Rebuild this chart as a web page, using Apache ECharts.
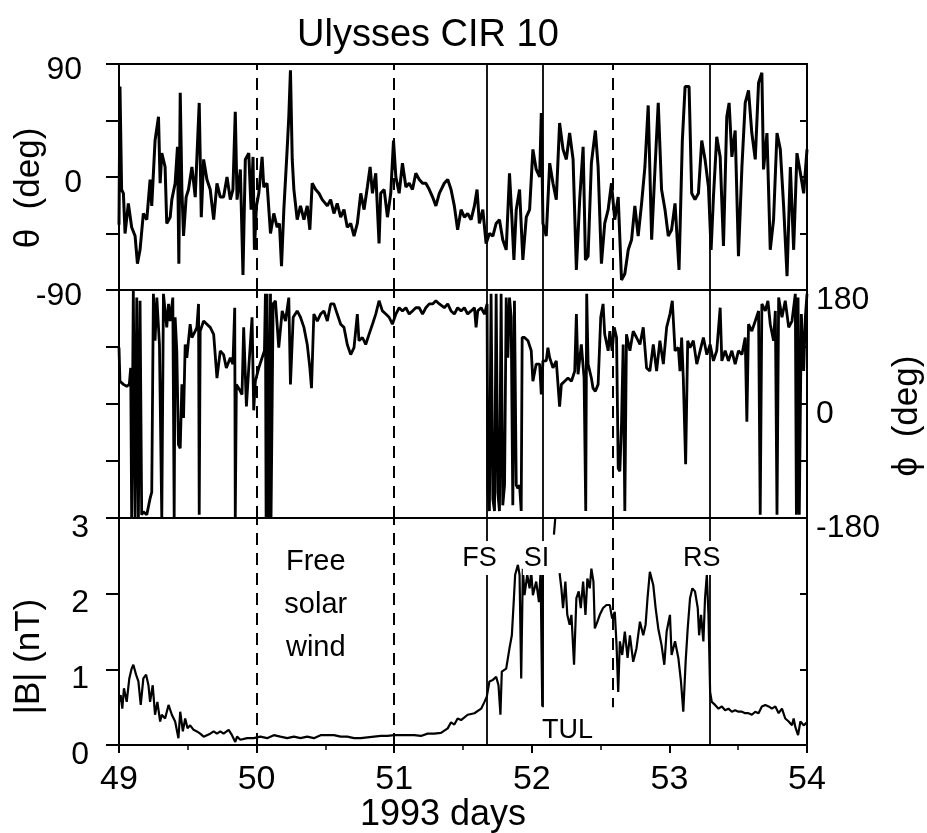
<!DOCTYPE html>
<html>
<head>
<meta charset="utf-8">
<title>Ulysses CIR 10</title>
<script src="https://cdn.jsdelivr.net/npm/echarts@6/dist/echarts.min.js"></script>
<style>
  html, body { margin: 0; padding: 0; background: #ffffff; }
  #main { width: 927px; height: 833px; }
</style>
</head>
<body>
<div id="main"></div>
<script>
// Ulysses magnetometer, CIR 10 (1993 days 49-54)
const FONT = '"Liberation Sans", Arial, Helvetica, sans-serif';

// x range (day of year 1993)
const dayRange = [49, 54];

// Field latitude angle theta (deg)
const theta = [
  [49.000,-38],[49.007,72],[49.019,-10],[49.032,-13],[49.044,-45],[49.068,-21],[49.092,-40],[49.117,-47],
  [49.134,-69],[49.153,-58],[49.177,-29],[49.202,-34],[49.226,-2],[49.238,-23],[49.262,29],[49.287,48],
  [49.299,-5],[49.311,19],[49.335,8],[49.347,-37],[49.372,-32],[49.384,-18],[49.408,-5],[49.425,24],
  [49.435,-69],[49.445,67],[49.457,-10],[49.469,-47],[49.488,-16],[49.505,-10],[49.530,8],[49.554,-16],
  [49.583,59],[49.598,-32],[49.615,14],[49.639,-2],[49.663,-10],[49.688,-34],[49.712,-5],[49.736,-16],
  [49.760,-16],[49.785,0],[49.809,-18],[49.828,-10],[49.845,52],[49.858,-18],[49.882,6],[49.901,-78],
  [49.918,14],[49.943,19],[49.960,-26],[49.974,16],[49.984,-58],[49.999,-23],[50.016,-13],[50.040,16],
  [50.052,-8],[50.076,-5],[50.101,-45],[50.125,-29],[50.149,-40],[50.166,-37],[50.181,-71],[50.198,-26],
  [50.222,22],[50.234,48],[50.246,85],[50.259,14],[50.271,-10],[50.295,-34],[50.319,-23],[50.344,-34],
  [50.368,-23],[50.387,-42],[50.404,-5],[50.429,-10],[50.453,-13],[50.477,-18],[50.514,-23],[50.538,-18],
  [50.562,-29],[50.586,-21],[50.611,-32],[50.635,-26],[50.659,-40],[50.684,-37],[50.708,-47],[50.732,-37],
  [50.757,-13],[50.781,-26],[50.805,-8],[50.825,8],[50.842,-13],[50.866,3],[50.890,-53],[50.902,-13],
  [50.927,-10],[50.951,-32],[50.975,-13],[50.995,29],[51.012,0],[51.036,-13],[51.060,11],[51.085,-8],
  [51.109,-5],[51.133,-10],[51.157,3],[51.182,-2],[51.206,-5],[51.230,-5],[51.255,-10],[51.279,-16],
  [51.303,-23],[51.328,-13],[51.364,-5],[51.389,-2],[51.413,-10],[51.437,-23],[51.461,-42],[51.486,-26],
  [51.510,-32],[51.534,-29],[51.559,-34],[51.583,-23],[51.602,-10],[51.619,-37],[51.644,-26],[51.668,-53],
  [51.692,-45],[51.717,-47],[51.741,-37],[51.765,-34],[51.789,-50],[51.814,-58],[51.838,3],[51.855,-32],
  [51.870,-66],[51.887,-26],[51.911,-10],[51.935,-66],[51.960,-32],[51.984,-26],[52.008,22],[52.032,6],
  [52.057,0],[52.069,51],[52.081,-37],[52.105,-47],[52.130,11],[52.154,-5],[52.178,-18],[52.202,43],
  [52.227,22],[52.251,14],[52.275,35],[52.300,14],[52.324,-74],[52.348,-18],[52.373,24],[52.390,-66],
  [52.409,-63],[52.433,11],[52.462,37],[52.482,8],[52.506,-69],[52.530,-37],[52.555,-26],[52.579,-5],
  [52.603,-34],[52.628,-16],[52.652,-82],[52.676,-77],[52.701,-58],[52.725,-50],[52.749,-23],[52.773,-47],
  [52.798,-21],[52.822,8],[52.846,57],[52.871,-50],[52.895,6],[52.919,59],[52.943,-10],[52.968,-26],
  [52.992,-47],[53.016,-42],[53.041,-21],[53.070,-74],[53.094,29],[53.114,72],[53.143,72],[53.162,-13],
  [53.186,-18],[53.211,-13],[53.235,29],[53.259,14],[53.284,-8],[53.303,-58],[53.320,-16],[53.344,32],
  [53.369,16],[53.393,-55],[53.417,48],[53.434,59],[53.454,16],[53.478,37],[53.502,-63],[53.527,8],
  [53.551,59],[53.575,69],[53.599,35],[53.624,14],[53.648,75],[53.672,83],[53.684,6],[53.709,35],
  [53.733,-58],[53.757,-34],[53.782,35],[53.806,22],[53.830,-23],[53.855,-79],[53.879,8],[53.903,-58],
  [53.927,19],[53.952,3],[53.976,-13],[54.000,22]
];

// Field azimuth angle phi (deg)
const phi = [
  [49.000,89],[49.007,36],[49.032,31],[49.056,28],[49.075,31],[49.085,57],[49.092,-180],[49.104,180],
  [49.117,-180],[49.129,168],[49.141,-180],[49.153,163],[49.165,-175],[49.177,-170],[49.202,-175],[49.226,-149],
  [49.238,-139],[49.250,174],[49.262,100],[49.275,168],[49.294,94],[49.311,-180],[49.323,174],[49.347,121],
  [49.360,158],[49.372,131],[49.391,168],[49.401,-180],[49.408,137],[49.420,84],[49.432,-64],[49.445,-70],
  [49.457,31],[49.469,-22],[49.481,94],[49.493,73],[49.505,100],[49.517,126],[49.530,105],[49.554,115],
  [49.566,121],[49.578,158],[49.583,-175],[49.590,115],[49.615,131],[49.639,126],[49.663,121],[49.688,110],
  [49.712,41],[49.736,84],[49.760,78],[49.780,57],[49.809,73],[49.828,63],[49.841,152],[49.845,-180],
  [49.853,31],[49.870,25],[49.894,15],[49.906,121],[49.926,-4],[49.943,57],[49.967,137],[49.979,-10],
  [49.991,36],[50.016,57],[50.040,73],[50.057,84],[50.064,174],[50.069,-180],[50.076,174],[50.088,-180],
  [50.101,174],[50.105,-180],[50.120,158],[50.137,163],[50.161,89],[50.186,147],[50.210,131],[50.234,168],
  [50.246,31],[50.266,137],[50.295,147],[50.319,137],[50.344,121],[50.368,94],[50.387,57],[50.399,25],
  [50.416,142],[50.441,131],[50.465,142],[50.489,147],[50.514,131],[50.538,158],[50.562,158],[50.586,142],
  [50.611,126],[50.635,121],[50.659,94],[50.684,78],[50.708,89],[50.732,142],[50.744,100],[50.769,105],
  [50.793,94],[50.817,110],[50.842,126],[50.866,142],[50.890,163],[50.914,147],[50.939,142],[50.963,137],
  [50.987,126],[51.012,142],[51.036,152],[51.060,147],[51.085,152],[51.109,142],[51.133,147],[51.157,152],
  [51.182,152],[51.206,142],[51.230,152],[51.255,158],[51.279,158],[51.303,163],[51.328,158],[51.364,152],
  [51.389,158],[51.413,147],[51.437,142],[51.461,152],[51.486,147],[51.510,152],[51.534,142],[51.559,147],
  [51.583,152],[51.595,121],[51.607,147],[51.632,152],[51.656,142],[51.675,158],[51.680,-133],[51.692,-169],
  [51.704,174],[51.717,-150],[51.729,-169],[51.741,174],[51.753,-140],[51.765,-169],[51.777,174],[51.789,-160],
  [51.802,-128],[51.814,168],[51.826,73],[51.838,168],[51.850,137],[51.862,-160],[51.874,163],[51.887,-128],
  [51.899,-133],[51.911,-128],[51.923,-169],[51.930,105],[51.947,105],[51.972,100],[51.996,84],[52.008,36],
  [52.032,63],[52.057,63],[52.069,15],[52.081,68],[52.105,68],[52.117,89],[52.130,73],[52.154,57],
  [52.178,68],[52.202,-4],[52.215,31],[52.239,36],[52.263,41],[52.288,36],[52.312,52],[52.324,142],
  [52.336,47],[52.360,94],[52.380,41],[52.392,-169],[52.399,174],[52.409,63],[52.433,41],[52.445,25],
  [52.462,20],[52.482,31],[52.501,137],[52.518,158],[52.530,110],[52.555,84],[52.567,115],[52.584,84],
  [52.599,121],[52.616,105],[52.628,-102],[52.640,-106],[52.652,-31],[52.664,94],[52.676,-169],[52.688,110],
  [52.713,84],[52.737,115],[52.761,105],[52.786,94],[52.810,121],[52.834,57],[52.858,52],[52.883,94],
  [52.907,52],[52.931,100],[52.956,63],[52.980,121],[53.004,142],[53.021,163],[53.041,84],[53.065,89],
  [53.077,52],[53.089,105],[53.101,41],[53.118,-95],[53.133,100],[53.150,89],[53.174,100],[53.199,63],
  [53.223,84],[53.247,105],[53.272,78],[53.296,94],[53.320,68],[53.344,84],[53.369,152],[53.381,68],
  [53.405,84],[53.429,68],[53.454,84],[53.478,63],[53.502,84],[53.527,78],[53.551,105],[53.563,-28],
  [53.575,126],[53.599,115],[53.624,131],[53.648,147],[53.660,-175],[53.672,158],[53.697,147],[53.716,163],
  [53.733,126],[53.757,100],[53.770,147],[53.782,-175],[53.794,168],[53.818,137],[53.842,163],[53.867,121],
  [53.891,131],[53.915,174],[53.923,-175],[53.935,168],[53.944,-175],[53.959,142],[53.976,52],[53.988,137],
  [54.000,174]
];

// Field magnitude |B| (nT); '-' marks a data gap
const bmag = [
  [49.000,0.57],[49.012,0.66],[49.024,0.48],[49.036,0.75],[49.056,0.57],[49.075,0.88],[49.092,1.01],[49.104,1.06],
  [49.124,0.93],[49.141,0.84],[49.158,0.53],[49.177,0.88],[49.197,0.93],[49.214,0.79],[49.226,0.57],[49.245,0.79],
  [49.262,0.40],[49.279,0.57],[49.299,0.31],[49.311,0.40],[49.335,0.35],[49.360,0.53],[49.384,0.40],[49.408,0.31],
  [49.432,0.09],[49.445,0.44],[49.464,0.18],[49.481,0.35],[49.498,0.22],[49.517,0.26],[49.542,0.20],[49.566,0.18],
  [49.590,0.15],[49.615,0.11],[49.639,0.13],[49.663,0.15],[49.688,0.18],[49.712,0.15],[49.736,0.18],[49.760,0.15],
  [49.797,0.20],[49.821,0.13],[49.845,0.04],[49.858,0.11],[49.882,0.07],[49.931,0.09],[49.979,0.09],[50.028,0.11],
  [50.076,0.09],[50.125,0.13],[50.173,0.11],[50.222,0.09],[50.271,0.11],[50.319,0.09],[50.368,0.11],[50.416,0.09],
  [50.465,0.13],[50.514,0.13],[50.562,0.13],[50.611,0.11],[50.659,0.11],[50.708,0.09],[50.757,0.09],[50.805,0.10],
  [50.854,0.11],[50.902,0.12],[50.951,0.12],[51.000,0.13],[51.048,0.13],[51.097,0.13],[51.145,0.13],[51.194,0.12],
  [51.243,0.15],[51.291,0.15],[51.340,0.16],[51.389,0.22],[51.413,0.30],[51.437,0.27],[51.461,0.35],[51.486,0.33],
  [51.534,0.40],[51.583,0.42],[51.632,0.48],[51.656,0.57],[51.673,0.64],[51.692,0.84],[51.717,0.86],[51.741,0.90],
  [51.758,0.79],[51.772,0.40],[51.782,0.97],[51.814,1.01],[51.838,1.28],[51.855,1.45],[51.870,1.94],[51.879,2.25],
  [51.899,2.38],[51.911,2.25],[51.923,0.88],[51.935,2.33],[51.947,1.98],[51.967,2.25],[51.984,2.07],[51.996,2.29],
  [52.008,1.98],[52.032,2.16],[52.052,1.89],[52.064,2.29],[52.076,0.51],[52.081,2.27],[52.090,'-'],[52.161,2.78],
  [52.175,3.10],[52.185,'-'],[52.202,2.27],[52.215,2.07],[52.227,1.81],[52.244,2.16],[52.258,1.72],[52.275,1.59],
  [52.288,1.72],[52.307,1.06],[52.324,1.94],[52.341,2.03],[52.356,1.81],[52.373,2.16],[52.390,1.72],[52.404,2.20],
  [52.421,2.07],[52.433,2.33],[52.448,2.16],[52.458,1.54],[52.477,1.63],[52.494,1.72],[52.518,1.81],[52.543,1.85],
  [52.567,1.85],[52.584,1.67],[52.603,1.76],[52.616,1.32],[52.628,0.70],[52.640,1.37],[52.657,1.19],[52.676,1.50],
  [52.696,1.15],[52.713,1.45],[52.737,1.10],[52.761,1.28],[52.786,1.63],[52.810,1.45],[52.827,1.59],[52.841,1.94],
  [52.858,2.29],[52.871,2.29],[52.883,2.11],[52.900,1.81],[52.919,1.54],[52.943,1.32],[52.963,1.06],[52.980,1.50],
  [53.004,1.72],[53.016,1.19],[53.041,1.37],[53.065,1.15],[53.084,0.84],[53.101,0.44],[53.118,1.10],[53.133,1.54],
  [53.150,1.94],[53.167,2.07],[53.186,2.03],[53.206,1.81],[53.216,1.45],[53.230,1.72],[53.247,1.37],[53.259,1.94],
  [53.272,2.25],[53.284,1.72],[53.296,0.70],[53.308,0.57],[53.332,0.53],[53.357,0.48],[53.381,0.51],[53.405,0.46],
  [53.429,0.48],[53.454,0.44],[53.478,0.46],[53.502,0.44],[53.527,0.44],[53.551,0.42],[53.575,0.42],[53.599,0.40],
  [53.624,0.44],[53.648,0.42],[53.672,0.51],[53.697,0.53],[53.721,0.51],[53.745,0.48],[53.770,0.51],[53.794,0.42],
  [53.818,0.48],[53.842,0.35],[53.867,0.31],[53.891,0.26],[53.903,0.35],[53.915,0.24],[53.935,0.13],[53.952,0.31],
  [53.976,0.26],[54.000,0.30]
];

// Event markers (day): dashed bounds of the free solar wind interval and the later dashed divider
const dashedDays = [50, 51, 52.586];
// Solid markers: forward shock, stream interface, reverse shock
const shockDays = [51.675, 52.076, 53.291];
// Days whose markers in the |B| panel stop at this field level (leaves room for the TUL label)
const shortMarkerDays = [52.076, 52.586];
const shortMarkerFloor = 0.5;

// Panel annotations [day, |B| position, text]
const annotations = [
  [50.43, 1.85, 'Free\nsolar\nwind'],
  [51.62, 2.47, 'FS'],
  [52.035, 2.47, 'SI'],
  [53.235, 2.47, 'RS'],
  [52.26, 0.185, 'TUL']
];

const DASH = { type: [12, 8], width: 2, color: '#000' };
const SOLID = { type: 'solid', width: 1.8, color: '#000' };

function fullMarkers() {
  return dashedDays.map(d => ({ xAxis: d, lineStyle: DASH }))
    .concat(shockDays.map(d => ({ xAxis: d, lineStyle: SOLID })));
}
function bottomMarkers(top) {
  const out = [];
  const add = (d, style) => {
    if (shortMarkerDays.includes(d)) out.push([{ coord: [d, top], lineStyle: style }, { coord: [d, shortMarkerFloor] }]);
    else out.push({ xAxis: d, lineStyle: style });
  };
  dashedDays.forEach(d => add(d, DASH));
  shockDays.forEach(d => add(d, SOLID));
  return out;
}
function markLineOf(data) {
  return { silent: true, symbol: ['none', 'none'], label: { show: false }, animation: false, data: data };
}

const gridBox = {
  left: 119, right: 120, show: true, borderColor: '#000', borderWidth: 2,
  backgroundColor: 'transparent', containLabel: false, outerBoundsMode: 'none'
};

function xAxisFor(gridIndex, showLabels) {
  return {
    type: 'value', gridIndex: gridIndex, min: dayRange[0], max: dayRange[1], interval: 1,
    axisLine: { show: false },
    splitLine: { show: false },
    axisTick: { show: showLabels, length: 8, lineStyle: { color: '#000', width: 2 } },
    minorTick: { show: showLabels, splitNumber: 2, length: 5, lineStyle: { color: '#000', width: 1.5 } },
    axisLabel: { show: showLabels, fontFamily: FONT, fontSize: 34, color: '#000', margin: 18 },
    name: showLabels ? '1993 days' : '',
    nameLocation: 'middle', nameGap: 52, nameMoveOverlap: false,
    nameTextStyle: { fontFamily: FONT, fontSize: 36, color: '#000', padding: [0, 40, 0, 0] }
  };
}

function yAxisFor(opts) {
  return Object.assign({
    type: 'value',
    axisLine: { show: false },
    splitLine: { show: false },
    nameMoveOverlap: false,
    axisTick: { show: true, length: 13, inside: false, lineStyle: { color: '#000', width: 2 } },
    axisLabel: { show: false }
  }, opts);
}

// tick labels sit a little below their ticks: verticalAlign top with a short line box
function tickLabel(margin, drop, formatter) {
  const s = { show: true, margin: margin, fontFamily: FONT, fontSize: 32, color: '#000',
    verticalAlign: 'top', lineHeight: drop * 2 };
  if (formatter) s.formatter = formatter;
  return s;
}
const nameStyle = { fontFamily: FONT, fontSize: 35, color: '#000' };
const INSIDE_TICK = { show: true, inside: true, length: 7, lineStyle: { color: '#000', width: 2 } };

const option = {
  backgroundColor: '#ffffff',
  animation: false,
  title: {
    text: 'Ulysses CIR 10', left: 292, top: 12,
    textStyle: { fontFamily: FONT, fontSize: 38, fontWeight: 'normal', color: '#000' }
  },
  grid: [
    Object.assign({ top: 64, height: 226 }, gridBox),
    Object.assign({ top: 290, height: 228 }, gridBox),
    Object.assign({ top: 518, height: 227 }, gridBox)
  ],
  xAxis: [xAxisFor(0, false), xAxisFor(1, false), xAxisFor(2, true)],
  yAxis: [
    yAxisFor({
      gridIndex: 0, position: 'left', min: -90, max: 90, interval: 45,
      axisLabel: tickLabel(37, 6, v => (v % 90 === 0 ? String(v) : '')),
      name: 'θ  (deg)', nameLocation: 'middle', nameRotate: 90, nameGap: 72,
      nameTextStyle: Object.assign({ padding: [0, 22, 0, 0] }, nameStyle)
    }),
    yAxisFor({ gridIndex: 0, position: 'right', min: -90, max: 90, interval: 45, axisTick: INSIDE_TICK }),
    yAxisFor({ gridIndex: 1, position: 'left', min: -180, max: 180, interval: 90 }),
    yAxisFor({
      gridIndex: 1, position: 'right', min: -180, max: 180, interval: 90, axisTick: INSIDE_TICK,
      axisLabel: tickLabel(9, 10, v => (v % 180 === 0 ? String(v) : '')),
      name: 'ϕ  (deg)', nameLocation: 'middle', nameRotate: 90, nameGap: 83,
      nameTextStyle: Object.assign({ padding: [0, 24, 0, 0] }, nameStyle)
    }),
    yAxisFor({
      gridIndex: 2, position: 'left', min: 0, max: 3, interval: 1,
      axisLabel: tickLabel(30, 10),
      name: '|B| (nT)', nameLocation: 'middle', nameRotate: 90, nameGap: 72,
      nameTextStyle: Object.assign({ padding: [0, 50, 0, 0] }, nameStyle)
    }),
    yAxisFor({ gridIndex: 2, position: 'right', min: 0, max: 3, interval: 1, axisTick: INSIDE_TICK })
  ],
  series: [
    {
      name: 'theta', type: 'line', xAxisIndex: 0, yAxisIndex: 0, data: theta,
      showSymbol: false, symbol: 'none', clip: true,
      lineStyle: { color: '#000', width: 3 },
      markLine: markLineOf(fullMarkers())
    },
    {
      name: 'phi', type: 'line', xAxisIndex: 1, yAxisIndex: 3, data: phi,
      showSymbol: false, symbol: 'none', clip: true,
      lineStyle: { color: '#000', width: 2.8 },
      markLine: markLineOf(fullMarkers())
    },
    {
      name: 'B', type: 'line', xAxisIndex: 2, yAxisIndex: 4, data: bmag,
      showSymbol: false, symbol: 'none', clip: true, connectNulls: false,
      lineStyle: { color: '#000', width: 2.2 },
      markLine: markLineOf(bottomMarkers(3))
    },
    {
      name: 'labels', type: 'scatter', xAxisIndex: 2, yAxisIndex: 4, z: 10,
      symbolSize: 0, silent: true,
      itemStyle: { opacity: 1, color: '#000' },
      data: annotations.map(a => {
        const multi = a[2].indexOf('\n') >= 0;
        const shock = ['FS', 'SI', 'RS'].includes(a[2]);
        return {
          value: [a[0], a[1]],
          label: {
            show: true, position: 'inside', fontFamily: FONT, color: '#000',
            textBorderWidth: 0, textShadowBlur: 0, opacity: 1,
            fontSize: multi ? 29 : 27, lineHeight: multi ? 43 : 30,
            backgroundColor: shock ? '#ffffff' : 'transparent',
            padding: shock ? [2, 1, 2, 1] : 0,
            formatter: a[2]
          }
        };
      })
    }
  ]
};

const chart = echarts.init(document.getElementById('main'), null, { renderer: 'canvas' });
chart.setOption(option);
</script>
</body>
</html>
